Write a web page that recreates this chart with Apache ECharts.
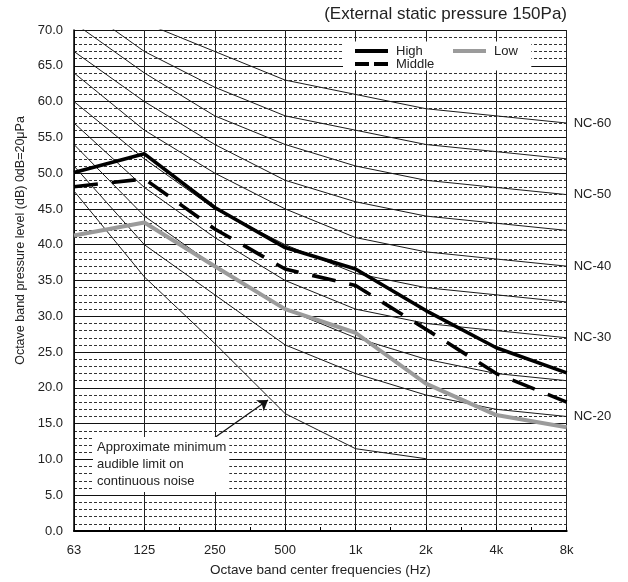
<!DOCTYPE html>
<html>
<head>
<meta charset="utf-8">
<script src="https://cdn.jsdelivr.net/npm/echarts@6/dist/echarts.min.js"></script>
<style>html,body{margin:0;padding:0;background:#fff}#c{width:628px;height:582px}</style>
</head>
<body>
<div id="c"></div>
<script>
const categories = ['63','125','250','500','1k','2k','4k','8k'];
const high   = [50.1, 52.7, 45.2, 39.6, 36.6, 30.8, 25.6, 22.1];
const middle = [48.1, 49.2, 42.2, 36.6, 34.3, 28.2, 22.0, 18.0];
const low    = [41.3, 43.1, 37.0, 31.0, 27.7, 20.6, 16.2, 14.5];
const nc60 = [77, 71, 67, 63, 61, 59, 58, 57];
const nc55 = [74, 67, 62, 58, 56, 54, 53, 52];
const nc50 = [71, 64, 58, 54, 51, 49, 48, 47];
const nc45 = [67, 60, 54, 49, 46, 44, 43, 42];
const nc40 = [64, 56, 50, 45, 41, 39, 38, 37];
const nc35 = [60, 52, 45, 40, 36, 34, 33, 32];
const nc30 = [57, 48, 41, 35, 31, 29, 28, 27];
const nc25 = [54, 44, 37, 31, 27, 24, 22, 21];
const nc20 = [51, 40, 33, 26, 22, 19, 17, 16];
const audibleLimit = [47.5, 35.5, 26.2, 16.4, 11.5, 10.1, null, null];
const ncCurves = [
  ['NC-60', nc60, true], ['NC-55', nc55, false], ['NC-50', nc50, true],
  ['NC-45', nc45, false], ['NC-40', nc40, true], ['NC-35', nc35, false],
  ['NC-30', nc30, true], ['NC-25', nc25, false], ['NC-20', nc20, true]
];
const FONT = '"Liberation Sans", Arial, Helvetica, sans-serif';
const TXT = '#222';
const SOLID_ICON = 'path://M0,0h33v4h-33z';
const DASH_ICON = 'path://M0,0h14v4h-14zM19,0h14v4h-14z';

const chart = echarts.init(document.getElementById('c'), null, {renderer: 'canvas'});

const series = [];
ncCurves.forEach(([name, data, labelled]) => {
  series.push({
    name, type: 'line', data, symbol: 'none', silent: true, z: 2,
    color: '#1a1a1a',
    lineStyle: {color: '#1a1a1a', width: 1},
    endLabel: labelled ? {show: true, formatter: name, color: TXT, fontSize: 13, fontFamily: FONT, distance: 7} : {show: false}
  });
});
series.push({
  name: 'limit', type: 'line', data: audibleLimit, symbol: 'none', silent: true, z: 2,
  color: '#1a1a1a',
  lineStyle: {color: '#1a1a1a', width: 1},
  markLine: {
    silent: true, symbol: ['none', 'arrow'], symbolSize: 10,
    lineStyle: {color: '#111', width: 1.2, type: 'solid'},
    label: {show: false},
    data: [[{x: 207, y: 443}, {x: 268, y: 400}]]
  }
});
series.push({name: 'Low', type: 'line', data: low, symbol: 'none', z: 3, color: '#9b9b9b',
  itemStyle: {color: '#9b9b9b'},
  lineStyle: {color: '#9b9b9b', width: 4}});
series.push({name: 'Middle', type: 'line', data: middle, symbol: 'none', z: 4, color: '#000',
  itemStyle: {color: '#000'},
  lineStyle: {color: '#000', width: 3.6, type: [24, 14], cap: 'butt'}});
series.push({name: 'High', type: 'line', data: high, symbol: 'none', z: 5, color: '#000',
  itemStyle: {color: '#000'},
  lineStyle: {color: '#000', width: 3.6}});

const option = {
  animation: false,
  backgroundColor: '#fff',
  textStyle: {fontFamily: FONT},
  title: {
    text: '(External static pressure 150Pa)', right: 61, top: 6, padding: 0,
    textStyle: {fontSize: 17, fontWeight: 'normal', color: TXT, fontFamily: FONT}
  },
  legend: [
    {
      data: [{name: 'High', icon: SOLID_ICON}, {name: 'Middle', icon: DASH_ICON}],
      orient: 'vertical', left: 343, top: 41.5, padding: [3, 97, 0, 12],
      backgroundColor: '#fff', itemWidth: 33, itemHeight: 4, itemGap: 0,
      textStyle: {fontSize: 13, lineHeight: 13, color: TXT, fontFamily: FONT, padding: [0, 0, 0, 3]},
      z: 6, selectedMode: false
    },
    {
      data: [{name: 'Low', icon: SOLID_ICON}], orient: 'vertical', left: 453, top: 44.5, padding: 0,
      itemWidth: 33, itemHeight: 4,
      textStyle: {fontSize: 13, lineHeight: 13, color: TXT, fontFamily: FONT, padding: [0, 0, 0, 3]},
      z: 7, selectedMode: false
    }
  ],
  grid: {left: 74, right: 61.3, top: 30, bottom: 49.5, containLabel: false},
  xAxis: [
    {
      type: 'category', data: categories, boundaryGap: false,
      name: 'Octave band center frequencies (Hz)', nameLocation: 'middle', nameGap: 32,
      nameTextStyle: {fontSize: 13.5, color: TXT, fontFamily: FONT},
      axisLine: {show: true, lineStyle: {color: '#000', width: 2}},
      axisTick: {show: false},
      axisLabel: {fontSize: 13, color: TXT, margin: 13, fontFamily: FONT},
      splitLine: {show: true, lineStyle: {color: '#222', width: 1}}
    },
    {
      type: 'value', min: 0, max: 7, interval: 0.5, position: 'bottom',
      axisLine: {show: false}, axisLabel: {show: false}, splitLine: {show: false},
      axisTick: {show: true, inside: true, length: 4, lineStyle: {color: '#000', width: 1}}
    }
  ],
  yAxis: {
    type: 'value', min: 0, max: 70, interval: 5,
    name: 'Octave band pressure level (dB) 0dB=20μPa', nameLocation: 'middle', nameGap: 45,
    nameTextStyle: {fontSize: 12.5, color: TXT, fontFamily: FONT, padding: [0, 0, 0, 80]},
    axisLine: {show: true, lineStyle: {color: '#000', width: 1.5}},
    axisTick: {show: false},
    axisLabel: {fontSize: 13, color: TXT, margin: 11, fontFamily: FONT,
      formatter: v => v.toFixed(1)},
    splitLine: {show: true, lineStyle: {color: '#111', width: 1}},
    minorTick: {show: false, splitNumber: 5},
    minorSplitLine: {show: true, lineStyle: {color: '#333', width: 1, type: [3, 2]}}
  },
  graphic: [
    {
      type: 'text', left: 93, top: 437, z: 10, silent: true,
      style: {
        text: 'Approximate minimum\naudible limit on\ncontinuous noise',
        font: '13px ' + FONT, fill: TXT, lineHeight: 17,
        backgroundColor: '#fff', padding: [2, 3, 2, 4]
      }
    }
  ],
  series
};
chart.setOption(option);
</script>
</body>
</html>
